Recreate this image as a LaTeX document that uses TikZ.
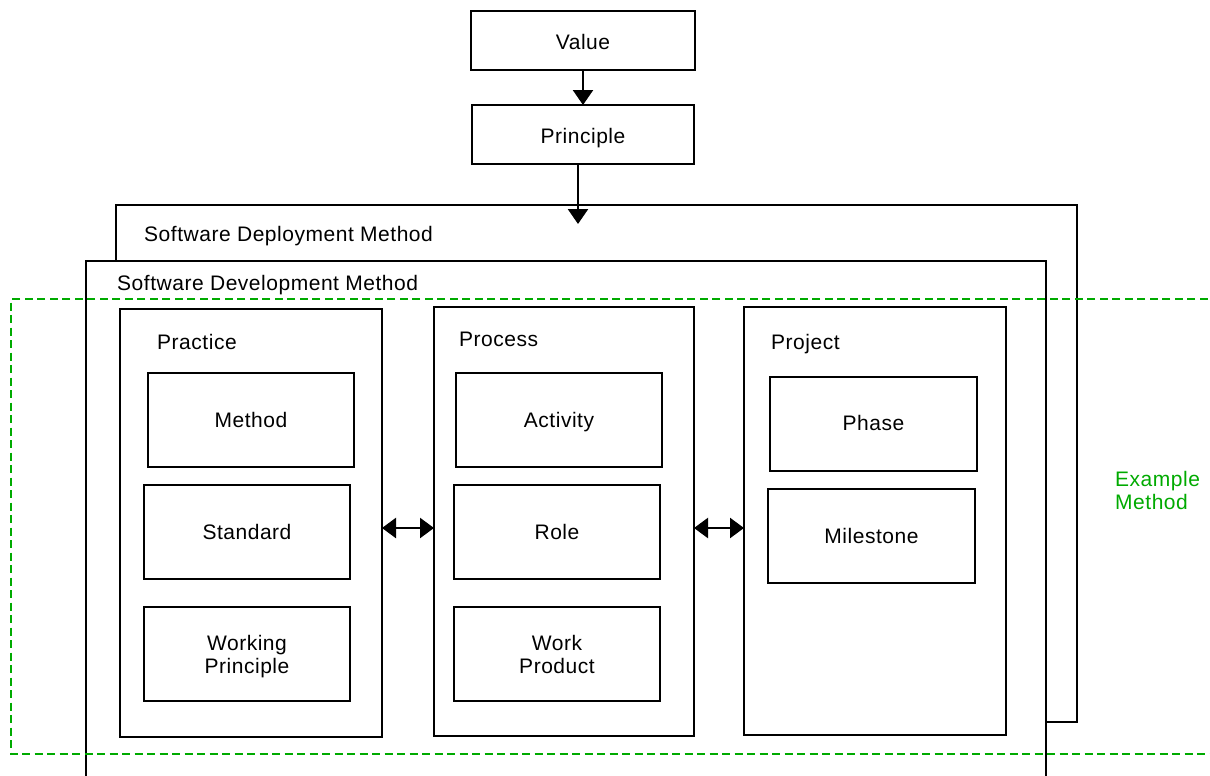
\documentclass[tikz,border=0pt]{standalone}
\usepackage{fontspec}
\setmainfont{Liberation Sans}[LetterSpace=2.5]
\usetikzlibrary{arrows.meta}
\definecolor{methodgreen}{RGB}{0,170,0}
\tikzset{
  box/.style={draw=black, line width=2.4pt, fill=white, inner sep=0pt, outer sep=0pt},
  lbl/.style={anchor=base, inner sep=0pt, align=center, font=\fontsize{21}{23}\selectfont},
  lblw/.style={lbl, anchor=base west, align=left},
  flow/.style={line width=2.4pt, -{Triangle[length=15pt,width=20pt]}},
  both/.style={line width=2.4pt, {Triangle[length=14pt,width=20pt]}-{Triangle[length=14pt,width=20pt]}},
  exframe/.style={draw=methodgreen, line width=2.6pt, dash pattern=on 8pt off 4.5pt},
}
\begin{document}
\begin{tikzpicture}[x=1pt, y=-1pt]
\clip (0,0) rectangle (1210,776);

% value chain at the top
\node[box, minimum width=224pt, minimum height=59pt] (value) at (583,40.5) {};
\node[lbl] (valuetxt) at (583,50) {Value};
\node[box, minimum width=222pt, minimum height=59pt] (principle) at (583,134.5) {};
\node[lbl] (principletxt) at (583,143.3) {Principle};

% deployment method (behind)
\node[box, minimum width=961pt, minimum height=517pt] (deploy) at (596.5,463.5) {};
\node[lblw] (deploytxt) at (144,241.5) {Software Deployment Method};

% development method (front)
\node[box, minimum width=960pt, minimum height=539pt] (devel) at (566,530.5) {};
\node[lblw] (develtxt) at (117,290.7) {Software Development Method};

% practice column
\node[box, minimum width=262pt, minimum height=428pt] (practice) at (251,523) {};
\node[lblw] (practicetxt) at (157,349) {Practice};
\node[box, minimum width=206pt, minimum height=94pt] (method) at (251,420) {};
\node[lbl] (methodtxt) at (251,427) {Method};
\node[box, minimum width=206pt, minimum height=94pt] (standard) at (247,532) {};
\node[lbl] (standardtxt) at (247,539.3) {Standard};
\node[box, minimum width=206pt, minimum height=94pt] (workprin) at (247,654) {};
\node[lbl] (workprintxt) at (247,673.3) {Working\\Principle};

% process column
\node[box, minimum width=260pt, minimum height=429pt] (process) at (564,521.5) {};
\node[lblw] (processtxt) at (459,346.7) {Process};
\node[box, minimum width=206pt, minimum height=94pt] (activity) at (559,420) {};
\node[lbl] (activitytxt) at (559,427) {Activity};
\node[box, minimum width=206pt, minimum height=94pt] (role) at (557,532) {};
\node[lbl] (roletxt) at (557,539.3) {Role};
\node[box, minimum width=206pt, minimum height=94pt] (workprod) at (557,654) {};
\node[lbl] (workprodtxt) at (557,673.3) {Work\\Product};

% project column
\node[box, minimum width=262pt, minimum height=428pt] (project) at (875,521) {};
\node[lblw] (projecttxt) at (771,349) {Project};
\node[box, minimum width=207pt, minimum height=94pt] (phase) at (873.5,424) {};
\node[lbl] (phasetxt) at (873.5,430.7) {Phase};
\node[box, minimum width=207pt, minimum height=94pt] (milestone) at (871.5,536) {};
\node[lbl] (milestonetxt) at (871.5,543.3) {Milestone};

% connectors
\coordinate (deploytip) at (578,224);
\coordinate (linkrow) at (0,528);
\draw[flow] (value.south) -- (principle.north);
\draw[flow] ([xshift=-5pt]principle.south) -- (deploytip);
\draw[both] (practice.east |- linkrow) -- (process.west |- linkrow);
\draw[both] (process.east |- linkrow) -- (project.west |- linkrow);

% example method frame
\coordinate (exnw) at (11,299);
\coordinate (exsw) at (11,754);
\draw[exframe] (1220,299) -- (exnw) -- (exsw) -- (1220,754);
\node[lblw, text=methodgreen] (exampletxt) at (1115,509) {Example\\Method};
\end{tikzpicture}
\end{document}
